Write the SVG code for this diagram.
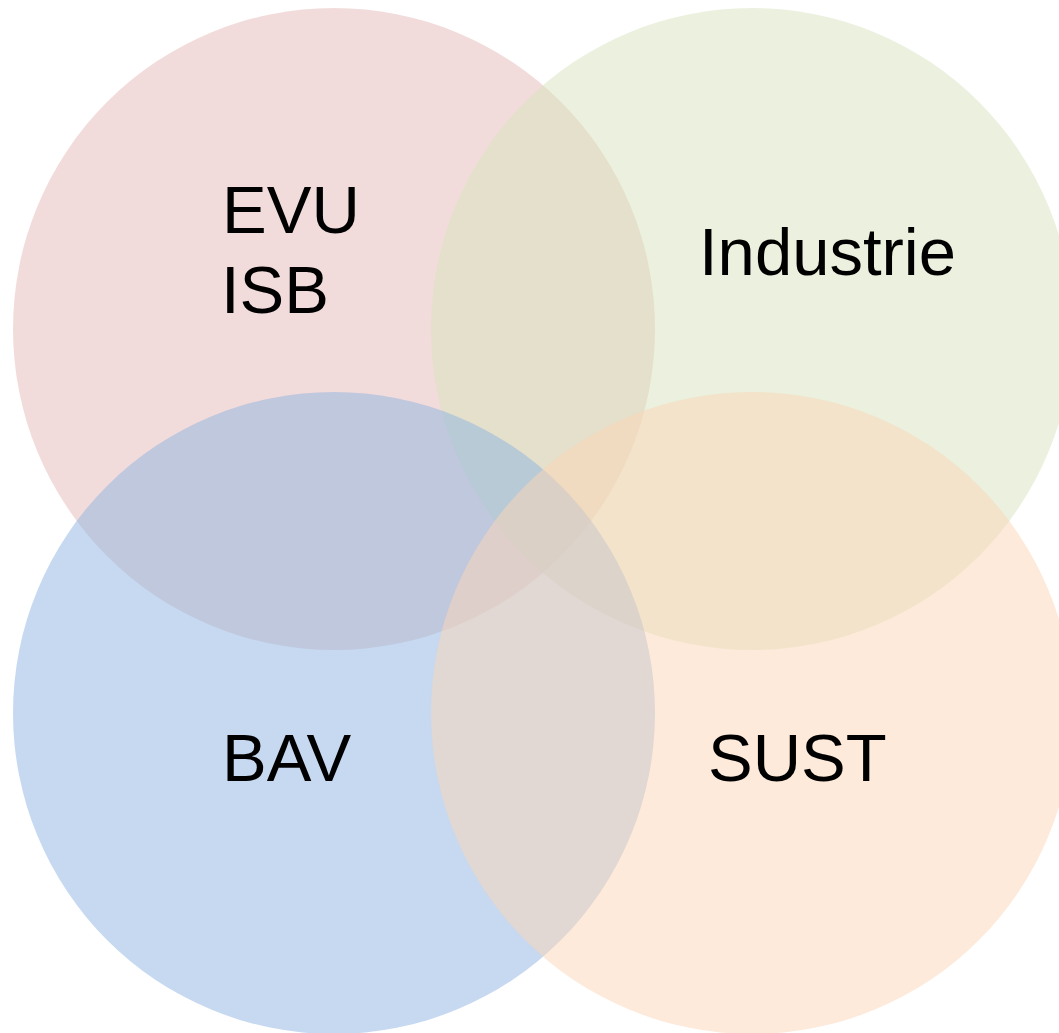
<svg xmlns="http://www.w3.org/2000/svg" width="1059" height="1033" viewBox="0 0 1059 1033">
<style>
.c{fill-opacity:0.5;stroke:none}
.t{font-family:"Liberation Sans",Arial,sans-serif;font-size:67px;fill:#000}
</style>
<rect width="1059" height="1033" fill="#fff"/>
<g id="evu"><ellipse class="c" cx="334" cy="329" rx="321" ry="321" fill="#E6B9B8"/></g>
<g id="industrie"><ellipse class="c" cx="752" cy="329" rx="321" ry="321" fill="#D7E4BD"/></g>
<g id="bav"><ellipse class="c" cx="334" cy="713" rx="321" ry="321" fill="#8DB3E2"/></g>
<g id="sust"><ellipse class="c" cx="752" cy="713" rx="321" ry="321" fill="#FCD5B5"/></g>
<g id="labels">
<text class="t" x="222" y="233">EVU</text>
<text class="t" x="221" y="313">ISB</text>
<text class="t" x="699" y="275">Industrie</text>
<text class="t" x="222" y="781">BAV</text>
<text class="t" x="708" y="781">SUST</text>
</g>
<g id="connectors"/>
</svg>
